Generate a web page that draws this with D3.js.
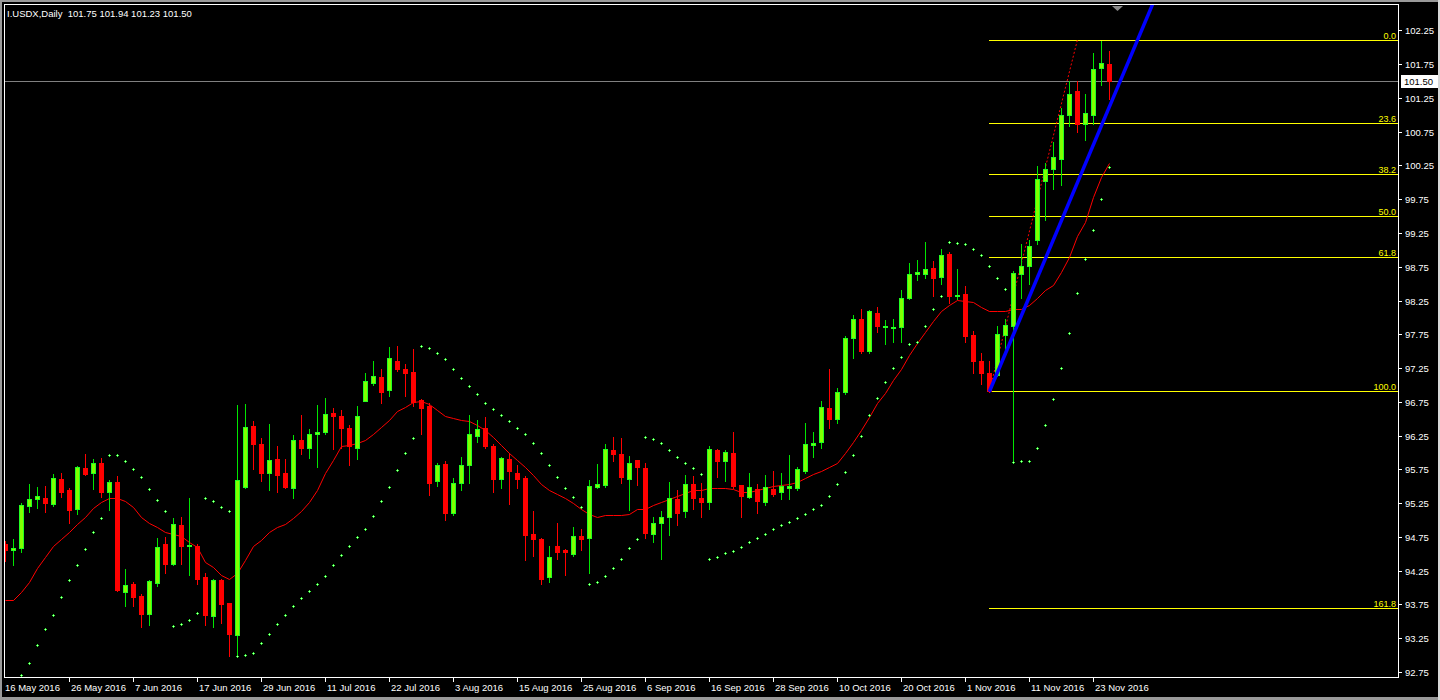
<!DOCTYPE html>
<html><head><meta charset="utf-8">
<script src="https://cdn.jsdelivr.net/npm/d3@7"></script>
<style>html,body{margin:0;padding:0;background:#000;overflow:hidden}svg{display:block}</style>
</head><body><svg id="c" width="1440" height="700"></svg>
<script>
// ---- data (daily bars, index 0 = 16 May 2016) ----
const open = [
94.64,94.55,94.58,95.21,95.31,95.33,95.24,95.61,95.45,95.16,
95.77,95.70,95.85,95.41,95.56,93.93,94.05,93.88,93.61,94.07,
94.65,94.35,94.93,94.61,94.62,94.16,93.58,94.11,93.77,93.30,
95.49,96.39,96.13,95.69,95.90,95.70,95.48,96.19,96.07,96.27,
96.31,96.59,96.54,96.36,96.07,96.77,97.03,97.12,96.92,97.36,
97.24,97.19,96.78,96.69,95.58,95.83,95.10,95.55,95.81,96.25,
96.36,96.10,95.61,95.90,95.70,95.62,94.79,94.72,94.15,94.62,
94.56,94.50,94.76,94.73,95.49,95.52,96.04,95.98,95.61,95.89,
95.77,94.80,94.95,95.04,95.31,95.13,95.53,95.33,95.27,96.04,
95.87,95.99,95.52,95.34,95.46,95.27,95.46,95.41,95.48,95.47,
95.73,96.11,96.15,96.66,96.50,96.90,97.69,97.98,97.51,98.07,
97.86,97.85,97.86,98.29,98.65,98.65,98.73,98.60,98.94,98.31,
98.35,97.74,97.36,97.18,97.15,97.74,97.88,98.64,98.76,99.14,
100.02,100.20,100.35,100.99,101.35,100.87,101.00,101.70,101.75];
const high = [
94.69,94.72,95.25,95.53,95.49,95.50,95.68,95.70,95.48,95.80,
95.98,95.90,95.92,95.59,95.65,94.28,94.08,93.91,94.11,94.73,
94.75,95.03,95.05,95.33,94.65,94.22,94.13,94.13,93.77,96.70,
96.72,96.47,96.22,96.42,96.10,95.90,96.26,96.56,96.35,96.70,
96.81,96.66,96.63,96.41,96.69,97.18,97.36,97.24,97.56,97.58,
97.31,97.53,96.79,96.73,95.85,95.87,95.62,95.93,96.56,96.48,
96.53,96.13,95.94,95.99,95.82,95.65,95.13,94.73,94.62,94.96,
94.57,94.90,94.87,95.59,95.83,96.13,96.23,96.22,95.95,95.89,
95.85,95.05,95.14,95.56,95.45,95.67,95.65,95.55,96.10,96.05,
96.04,96.31,95.52,95.69,95.53,95.67,95.73,95.69,95.96,95.79,
96.44,96.30,96.76,97.24,96.96,97.73,98.04,98.13,98.11,98.15,
97.96,97.98,98.41,98.81,98.85,99.12,98.84,99.01,98.97,98.72,
98.47,97.80,97.48,97.36,97.87,97.98,98.69,99.09,99.15,100.24,
100.29,100.60,101.10,101.50,101.50,101.31,101.92,102.09,101.94];
const low = [
94.40,94.34,94.53,95.12,95.18,95.12,95.21,95.34,94.95,95.09,
95.67,95.46,95.34,95.15,93.95,93.73,93.73,93.42,93.44,94.03,
94.22,94.33,94.35,94.19,94.06,93.44,93.41,93.47,92.99,92.99,
95.47,95.76,95.58,95.44,95.41,95.47,95.32,95.98,95.92,95.78,
96.27,96.05,96.07,95.82,95.91,96.77,97.00,96.74,96.83,97.20,
96.84,96.69,96.27,95.37,95.51,95.00,95.07,95.44,95.55,96.15,
96.06,95.42,95.48,95.24,95.47,94.41,94.47,94.06,94.09,94.43,
94.19,94.47,94.56,94.22,95.47,95.49,95.88,95.55,95.15,95.52,
94.74,94.67,94.43,94.78,94.92,95.05,95.17,95.04,95.17,95.63,
95.58,95.47,95.04,95.33,95.11,95.23,95.35,95.31,95.31,95.44,
95.70,95.94,96.07,96.37,96.43,96.86,97.40,97.48,97.48,97.79,
97.60,97.63,97.63,98.27,98.55,98.59,98.31,98.49,98.22,98.27,
97.63,97.17,97.02,96.90,97.13,97.53,95.86,98.29,98.50,99.09,
99.44,99.90,99.96,100.84,100.74,100.63,100.86,101.44,101.23];
const close = [
94.56,94.59,95.22,95.31,95.36,95.25,95.62,95.42,95.15,95.79,
95.68,95.85,95.42,95.56,93.96,94.04,93.86,93.61,94.10,94.60,
94.35,94.94,94.61,94.63,94.13,93.60,94.11,93.76,93.32,95.60,
96.38,96.13,95.69,95.89,95.66,95.49,96.19,96.06,96.27,96.30,
96.57,96.54,96.37,96.09,96.54,97.06,97.13,96.90,97.40,97.24,
97.17,96.75,96.66,95.55,95.82,95.10,95.55,95.82,96.27,96.35,
96.10,95.61,95.92,95.72,95.61,94.78,94.72,94.13,94.45,94.53,
94.52,94.76,94.72,95.50,95.53,96.05,95.98,95.63,95.84,95.78,
94.81,94.95,95.04,95.33,95.11,95.53,95.32,95.26,96.05,95.87,
96.01,95.50,95.36,95.49,95.28,95.49,95.39,95.50,95.50,95.76,
96.13,96.14,96.67,96.49,96.90,97.70,97.98,97.51,98.10,97.88,
97.87,97.86,98.29,98.64,98.67,98.72,98.59,98.93,98.31,98.33,
97.72,97.36,97.17,96.91,97.76,97.89,98.66,98.76,99.06,100.05,
100.20,100.38,101.00,101.31,100.87,101.03,101.68,101.77,101.50];
// moving average (red line)
const ma = [
93.81,93.81,93.94,94.09,94.29,94.46,94.61,94.72,94.83,94.94,
95.04,95.18,95.27,95.32,95.32,95.28,95.20,95.05,94.96,94.90,
94.83,94.79,94.77,94.67,94.60,94.38,94.31,94.19,94.13,94.21,
94.41,94.61,94.71,94.83,94.90,94.94,95.03,95.13,95.26,95.45,
95.69,95.89,96.09,96.11,96.14,96.19,96.28,96.38,96.48,96.62,
96.68,96.75,96.76,96.72,96.63,96.54,96.51,96.48,96.47,96.41,
96.33,96.23,96.11,95.99,95.89,95.79,95.66,95.54,95.44,95.39,
95.33,95.25,95.16,95.09,95.05,95.07,95.07,95.07,95.09,95.16,
95.17,95.22,95.26,95.31,95.35,95.40,95.45,95.45,95.47,95.47,
95.47,95.46,95.42,95.41,95.45,95.48,95.50,95.52,95.54,95.57,
95.62,95.68,95.73,95.78,95.84,95.99,96.16,96.33,96.53,96.73,
96.88,97.07,97.23,97.44,97.62,97.79,97.94,98.10,98.19,98.26,
98.25,98.23,98.16,98.10,98.10,98.10,98.12,98.12,98.18,98.29,
98.40,98.48,98.68,98.90,99.20,99.42,99.79,100.08,100.28];
// parabolic SAR (green dots)
const sar = [
null,null,92.70,92.89,93.15,93.38,93.60,93.86,94.11,94.33,
94.57,94.82,95.03,95.97,95.96,95.88,95.75,95.63,95.46,95.29,
95.14,93.43,93.46,93.52,93.63,95.32,95.28,95.20,95.13,92.99,
93.00,93.03,93.18,93.32,93.46,93.59,93.72,93.84,93.95,94.06,
94.17,94.33,94.48,94.62,94.75,94.87,95.06,95.28,95.49,95.74,
95.99,96.21,97.57,97.54,97.47,97.38,97.23,97.10,96.98,96.86,
96.74,96.64,96.55,96.46,96.37,96.28,96.14,96.00,95.81,95.63,
95.47,95.34,95.20,94.06,94.09,94.17,94.29,94.43,94.58,94.72,
96.23,96.20,96.14,96.03,95.94,95.84,95.77,95.68,94.43,94.46,
94.51,94.54,94.60,94.67,94.73,94.80,94.86,94.92,94.97,95.03,
95.09,95.16,95.23,95.35,95.54,95.71,95.96,96.24,96.55,96.80,
97.04,97.25,97.41,97.60,97.63,97.88,98.12,98.31,99.11,99.10,
99.08,99.02,98.92,98.76,98.58,98.42,95.86,95.87,95.87,96.06,
96.40,96.79,97.25,97.77,98.36,98.86,99.29,99.76,100.22];

const dateLabels = ["16 May 2016","26 May 2016","7 Jun 2016","17 Jun 2016","29 Jun 2016","11 Jul 2016",
  "22 Jul 2016","3 Aug 2016","15 Aug 2016","25 Aug 2016","6 Sep 2016","16 Sep 2016","28 Sep 2016",
  "10 Oct 2016","20 Oct 2016","1 Nov 2016","11 Nov 2016","23 Nov 2016"];
const dateLabelBars = [0,8,16,24,32,40,48,56,64,72,80,88,96,104,112,120,128,136];
const priceTicks = [102.25,101.75,101.25,100.75,100.25,99.75,99.25,98.75,98.25,97.75,97.25,96.75,96.25,95.75,95.25,94.75,94.25,93.75,93.25,92.75];
const fibLevels = [0,23.6,38.2,50,61.8,100,161.8];
const fibLevelLabels = ["0.0","23.6","38.2","50.0","61.8","100.0","161.8"];
const fibLowBar = 123, fibLowPrice = 96.905, fibHighBar = 134, fibHighPrice = 102.103;
const trendBars = [123, 142], trendPrices = [96.90, 102.24];
const lastPrice = 101.50;
const headerText = "I.USDX,Daily  101.75 101.94 101.23 101.50";

// ---- layout ----
const L = 4, R = 1398, T = 4, B = 677;
const svg = d3.select("#c");
const x = d3.scaleLinear().domain([0, 138]).range([5.3, 5.3 + 8 * 138]);
const y = d3.scaleLinear().domain([92.75, 102.25]).range([672, 30.4]);
const FONT = "'Liberation Sans', Arial, sans-serif";

svg.append("rect").attr("width",1440).attr("height",700).attr("fill","#000");
// window frame
svg.append("rect").attr("x",0).attr("y",0).attr("width",1440).attr("height",2).attr("fill","#9a9a9a");
svg.append("rect").attr("x",0).attr("y",0).attr("width",2).attr("height",700).attr("fill","#9a9a9a");
svg.append("rect").attr("x",0).attr("y",697).attr("width",1440).attr("height",3).attr("fill","#9a9a9a");
svg.append("rect").attr("x",1438).attr("y",0).attr("width",2).attr("height",700).attr("fill","#d8d8d8");

svg.append("defs").append("clipPath").attr("id","plot")
  .append("rect").attr("x",L+1).attr("y",T+1).attr("width",R-L-1).attr("height",B-T-1);
const g = svg.append("g").attr("clip-path","url(#plot)").attr("shape-rendering","crispEdges");

const px = i => Math.floor(x(i));
const py = v => Math.round(y(v));

// current price line
g.append("line").attr("x1",L).attr("x2",R).attr("y1",py(lastPrice)+0.5).attr("y2",py(lastPrice)+0.5)
  .attr("stroke","#808080").attr("stroke-width",1);

// fibonacci levels
const fibRange = fibHighPrice - fibLowPrice;
const fibPrice = lv => fibHighPrice - lv/100 * fibRange;
fibLevels.forEach((lv,k) => {
  const yy = py(fibPrice(lv)) + 0.5;
  g.append("line").attr("x1",Math.floor(x(fibLowBar))).attr("x2",R).attr("y1",yy).attr("y2",yy)
    .attr("stroke","#ffff00").attr("stroke-width",1);
  svg.append("text").attr("x",R-2).attr("y",yy-2).attr("text-anchor","end")
    .attr("font-family",FONT).attr("font-size","9px").attr("fill","#ffff00").text(fibLevelLabels[k]);
});
// fib trend (red dotted)
g.append("line").attr("x1",x(fibLowBar)).attr("y1",y(fibLowPrice)).attr("x2",x(fibHighBar)).attr("y2",y(fibHighPrice))
  .attr("stroke","#ff0000").attr("stroke-width",1).attr("stroke-dasharray","2,2").attr("shape-rendering","auto");

// moving average
g.append("path").datum(ma).attr("fill","none").attr("stroke","#ff0000").attr("stroke-width",1)
  .attr("shape-rendering","auto")
  .attr("d", d3.line().x((d,i)=>px(i)+0.5).y(d=>py(d)+0.5));

// candles
const idx = d3.range(open.length);
const cg = g.append("g");
idx.forEach(i => {
  const bull = close[i] >= open[i];
  const cx = px(i);
  const col = bull ? "#00e600" : "#ff0000";
  cg.append("rect").attr("x",cx).attr("width",1).attr("y",py(high[i]))
    .attr("height",Math.max(1,py(low[i])-py(high[i])+1)).attr("fill",col);
  const top = py(Math.max(open[i],close[i])), bot = py(Math.min(open[i],close[i]));
  const h = Math.max(1, bot-top+1);
  if (bull) {
    cg.append("rect").attr("x",cx-2).attr("y",top).attr("width",5).attr("height",h).attr("fill","#22ff22");
    if (h > 2) cg.append("rect").attr("x",cx-1).attr("y",top+1).attr("width",3).attr("height",h-2).attr("fill","#80ff00");
  } else {
    cg.append("rect").attr("x",cx-2).attr("y",top).attr("width",5).attr("height",h).attr("fill","#ff0000");
  }
});

// parabolic SAR dots
idx.filter(i => sar[i] != null).forEach(i => {
  const cx = px(i), cy = py(sar[i]);
  g.append("rect").attr("x",cx-1).attr("y",cy).attr("width",3).attr("height",1).attr("fill","#33ff33");
  g.append("rect").attr("x",cx).attr("y",cy-1).attr("width",1).attr("height",3).attr("fill","#33ff33");
  g.append("rect").attr("x",cx).attr("y",cy).attr("width",1).attr("height",1).attr("fill","#b0ffb0");
});

// blue trend line (ray)
const slope = (trendPrices[1]-trendPrices[0])/(trendBars[1]-trendBars[0]);
const endBar = trendBars[0] + (102.9 - trendPrices[0]) / slope;
g.append("line").attr("x1",x(trendBars[0])).attr("y1",y(trendPrices[0]))
  .attr("x2",x(endBar)).attr("y2",y(trendPrices[0] + slope*(endBar-trendBars[0])))
  .attr("stroke","#0000ff").attr("stroke-width",3.5).attr("shape-rendering","auto");

// plot border
svg.append("rect").attr("x",L+0.5).attr("y",T+0.5).attr("width",R-L).attr("height",B-T)
  .attr("fill","none").attr("stroke","#ffffff").attr("stroke-width",1).attr("shape-rendering","crispEdges");

// shift marker triangle
svg.append("path").attr("d","M1112,6 L1123,6 L1117.5,11 Z").attr("fill","#8a8a8a");

// price axis
priceTicks.forEach(p => {
  const yy = py(p);
  svg.append("rect").attr("x",R).attr("y",yy).attr("width",4).attr("height",1).attr("fill","#fff");
  svg.append("text").attr("x",R+7).attr("y",yy+3.5).attr("font-family",FONT).attr("font-size","9.5px")
    .attr("fill","#fff").text(p.toFixed(2));
});
// last price box
const ly = py(lastPrice);
svg.append("rect").attr("x",R+3).attr("y",ly-6).attr("width",37).attr("height",13).attr("fill","#fff");
svg.append("text").attr("x",R+6).attr("y",ly+4).attr("font-family",FONT).attr("font-size","9.5px")
  .attr("fill","#000").text(lastPrice.toFixed(2));

// date axis
dateLabelBars.forEach((b,k) => {
  const xx = px(b);
  if (b > 0) svg.append("rect").attr("x",xx).attr("y",B).attr("width",1).attr("height",5).attr("fill","#fff");
  svg.append("text").attr("x", b > 0 ? xx + 2 : L + 1).attr("y",691).attr("font-family",FONT)
    .attr("font-size","9.5px").attr("fill","#fff").text(dateLabels[k]);
});

// header
svg.append("text").attr("x",7).attr("y",17).attr("font-family",FONT).attr("font-size","9.5px")
  .attr("fill","#fff").attr("xml:space","preserve").style("white-space","pre").text(headerText);
</script>
</body></html>
